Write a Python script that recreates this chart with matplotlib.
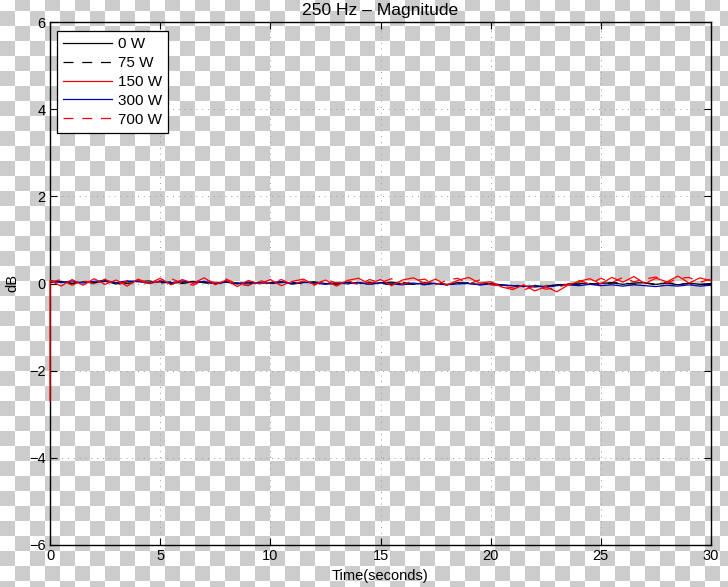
import numpy as np
import matplotlib
matplotlib.use('Agg')
import matplotlib.pyplot as plt

plt.rcParams['font.family'] = ['Liberation Sans', 'DejaVu Sans']
plt.rcParams['font.size'] = 10.5

# time axis, 0.5 s steps
t = np.linspace(0, 30, 61)

w0 = [0.03, 0.05, 0.00, 0.04, 0.02, 0.05, -0.01, 0.04, 0.06, 0.01,
      0.04, 0.00, 0.03, 0.05, 0.02, 0.00, 0.03, -0.01, 0.03, 0.01,
      0.02, 0.04, -0.01, 0.02, 0.04, 0.00, -0.01, 0.03, 0.01, -0.01,
      0.02, 0.03, -0.01, -0.02, 0.02, 0.00, -0.03, 0.02, 0.00, -0.02,
      0.00, -0.03, -0.05, -0.06, -0.08, -0.06, -0.03, -0.02, 0.01, -0.02,
      0.00, 0.02, -0.02, 0.01, 0.02, -0.02, 0.01, -0.03, 0.01, -0.02, 0.00]
w75 = [0.02, 0.05, 0.00, 0.04, 0.01, 0.06, 0.02, 0.00, 0.04, 0.06,
       0.01, 0.04, 0.00, 0.04, 0.02, -0.01, 0.04, 0.01, -0.01, 0.03,
       0.00, 0.02, 0.03, -0.01, 0.02, 0.03, -0.02, 0.02, 0.00, 0.03,
       -0.01, -0.02, 0.02, 0.00, -0.03, 0.02, -0.02, 0.00, 0.02, -0.03,
       -0.01, -0.04, -0.06, -0.07, -0.05, -0.08, -0.04, -0.01, -0.03, 0.00,
       -0.02, 0.01, 0.02, -0.02, 0.01, -0.03, 0.02, -0.02, 0.00, -0.03, -0.01]
w150 = [0.07, -0.06, 0.09, -0.04, 0.11, -0.02, 0.08, -0.06, 0.10, 0.00,
        0.12, -0.03, 0.09, 0.01, 0.13, -0.03, 0.08, -0.07, 0.07, -0.01,
        0.09, -0.05, 0.05, 0.10, -0.03, 0.08, -0.06, 0.07, 0.12, -0.01,
        0.09, -0.05, 0.08, 0.13, 0.00, 0.10, -0.04, 0.07, 0.14, 0.01,
        0.04, -0.08, -0.14, -0.03, -0.17, -0.07, -0.19, -0.04, 0.05, 0.11,
        -0.01, 0.14, 0.03, 0.16, 0.00, 0.12, 0.04, 0.17, 0.01, 0.13, 0.06]
w150_start = -2.7  # startup dip at t = 0
w300 = [0.07, 0.02, 0.06, 0.01, 0.05, 0.07, 0.02, 0.06, 0.04, 0.01,
        0.05, 0.02, 0.06, 0.01, 0.05, 0.00, 0.04, 0.01, -0.01, 0.03,
        0.00, 0.04, -0.01, 0.03, 0.01, -0.02, 0.02, -0.01, 0.03, -0.02,
        0.01, -0.01, -0.03, 0.01, -0.02, 0.00, -0.03, -0.01, 0.00, -0.03,
        -0.01, -0.04, -0.05, -0.07, -0.05, -0.08, -0.05, -0.03, -0.05, -0.02,
        -0.05, -0.03, -0.06, -0.03, -0.05, -0.07, -0.04, -0.06, -0.03, -0.06, -0.04]
w700 = [0.03, 0.09, -0.04, 0.07, -0.01, 0.10, -0.05, 0.06, 0.08, -0.03,
        0.07, 0.11, 0.01, -0.04, 0.09, 0.02, 0.10, -0.01, -0.05, 0.07,
        0.01, 0.09, -0.02, 0.06, -0.04, 0.10, 0.01, 0.07, -0.03, 0.09,
        0.02, 0.11, -0.02, 0.06, 0.10, -0.03, 0.07, 0.12, -0.01, 0.08,
        -0.03, -0.06, -0.10, -0.15, -0.05, -0.13, -0.10, -0.01, 0.07, -0.01,
        0.12, 0.02, 0.14, 0.04, 0.10, 0.15, 0.01, 0.12, 0.14, 0.03, 0.10]

labels = ['0 W', '75 W', '150 W', '300 W', '700 W']

W, H = 728, 587
fig = plt.figure(figsize=(W / 100, H / 100), dpi=100)

# transparent-background checkerboard seen in the reference
bg = fig.add_axes([0, 0, 1, 1], zorder=-10)
cell = 15
yy, xx = np.mgrid[0:H, 0:W]
board = ((xx // cell) + ((yy + 4) // cell)) % 2
img = np.where(board[..., None] == 1, 0.80, 1.0) * np.ones(3)
bg.imshow(img, extent=[0, W, H, 0], interpolation='nearest', aspect='auto')
bg.set_axis_off()

ax = fig.add_axes([50 / W, (H - 545) / H, 661 / W, 523 / H])
ax.set_facecolor('none')

lw = 0.9
ax.plot(t, w0, color='black', lw=lw, label=labels[0])
ax.plot(t, w75, color='black', lw=lw, ls=(0, (8, 7)), label=labels[1])
ax.plot(t, w300, color='#0000c0', lw=lw, label=labels[3])
ax.plot(np.r_[t[0], t], np.r_[w150_start, w150], color='red', lw=lw,
        label=labels[2], clip_on=False, zorder=3)
ax.plot(t, w700, color='red', lw=lw, ls=(0, (8, 7)), label=labels[4])

ax.set_xlim(0, 30)
ax.set_ylim(-6, 6)
ax.set_xticks(np.arange(0, 31, 5))
ax.set_yticks(np.arange(-6, 7, 2))
ax.tick_params(direction='in', top=True, right=True, length=5, width=0.8, pad=3)
ax.grid(True, color='#999999', ls=(0, (1, 5)), lw=0.7)
for s in ax.spines.values():
    s.set_linewidth(1.0)

ax.set_title('250 Hz \u2013 Magnitude', pad=5)
ax.set_xlabel('Time(seconds)', labelpad=4)
ax.set_ylabel('dB', labelpad=7)

h, l = ax.get_legend_handles_labels()
order = [0, 1, 3, 2, 4]
leg = ax.legend([h[i] for i in order], [l[i] for i in order],
                loc='upper left', bbox_to_anchor=(7 / 661, 1 - 9 / 523),
                borderaxespad=0, fancybox=False, framealpha=1, fontsize=11,
                edgecolor='black', handlelength=3.2, handletextpad=0.4,
                labelspacing=0.32, borderpad=0.4)
leg.get_frame().set_linewidth(0.9)

fig.savefig('out.png', dpi=100)
